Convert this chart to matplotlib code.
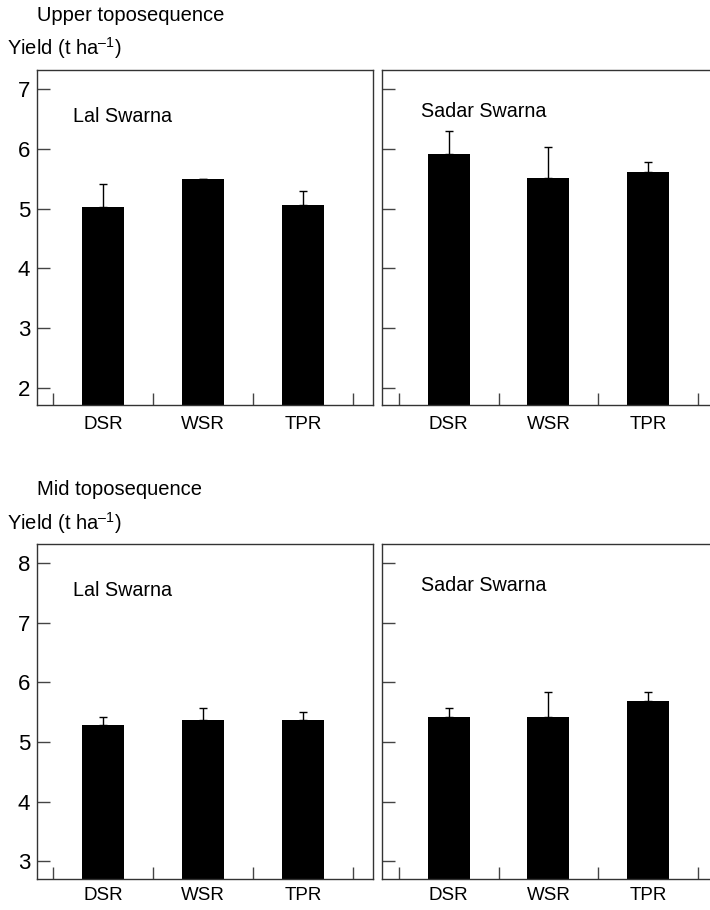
import numpy as np
import matplotlib
matplotlib.use("Agg")
import matplotlib.pyplot as plt

# categories and yields (t/ha)
methods = ["DSR", "WSR", "TPR"]

upper_lal = [5.03, 5.49, 5.06]
upper_lal_err = [0.39, 0.0, 0.23]
upper_sadar = [5.92, 5.51, 5.62]
upper_sadar_err = [0.38, 0.53, 0.16]

mid_lal = [5.28, 5.36, 5.36]
mid_lal_err = [0.14, 0.21, 0.15]
mid_sadar = [5.41, 5.41, 5.68]
mid_sadar_err = [0.16, 0.42, 0.15]

plt.rcParams['font.family'] = ['Liberation Sans', 'DejaVu Sans']
plt.rcParams['mathtext.fontset'] = 'custom'
plt.rcParams['mathtext.rm'] = 'Liberation Sans'
plt.rcParams['mathtext.it'] = 'Liberation Sans'

fig = plt.figure(figsize=(7.1, 9.1), dpi=100)

W = 0.4732
H = 0.368
panels = [
    # left, bottom, values, errors, variety, yticks, ylim, show labels, label pad
    (0.0521, 0.5549, upper_lal, upper_lal_err, "Lal Swarna", [2, 3, 4, 5, 6, 7], (1.71, 7.32), True, 8),
    (0.5385, 0.5549, upper_sadar, upper_sadar_err, "Sadar Swarna", [2, 3, 4, 5, 6, 7], (1.71, 7.32), False, 8),
    (0.0521, 0.0341, mid_lal, mid_lal_err, "Lal Swarna", [3, 4, 5, 6, 7, 8], (2.70, 8.32), True, 5.5),
    (0.5385, 0.0341, mid_sadar, mid_sadar_err, "Sadar Swarna", [3, 4, 5, 6, 7, 8], (2.70, 8.32), False, 5.5),
]

x = np.arange(1, len(methods) + 1)

for left, bottom, vals, errs, name, yt, yl, lab, pad in panels:
    ax = fig.add_axes([left, bottom, W, H])
    ax.bar(x, vals, width=0.42, color='black', zorder=2)
    ax.errorbar(x, vals, yerr=[np.zeros(len(errs)), errs], fmt='none',
                ecolor='black', elinewidth=1, capsize=3, capthick=1, zorder=1)
    ax.set_xlim(0.337, 3.70)
    ax.set_ylim(*yl)
    ax.set_yticks(yt)
    if lab:
        ax.set_yticklabels([str(t) for t in yt], fontsize=16)
    else:
        ax.set_yticklabels([])
    # bottom ticks sit between the bars, labels under the bars
    ax.set_xticks(np.arange(0.5, len(methods) + 1, 1.0))
    ax.set_xticklabels([])
    ax.set_xticks(x, minor=True)
    ax.set_xticklabels(methods, minor=True, fontsize=13.5)
    ax.tick_params(axis='x', which='major', direction='in', length=9, width=1, color='#444444')
    ax.tick_params(axis='x', which='minor', length=0, pad=pad)
    ax.tick_params(axis='y', direction='in', length=9, width=1, color='#444444', pad=5)
    for s in ax.spines.values():
        s.set_color('#333333')
        s.set_linewidth(1)
    ax.text(0.106 if lab else 0.114, 0.861 if lab else 0.876, name,
            transform=ax.transAxes, fontsize=14.2, va='center', ha='left')

fig.text(0.0521, 0.9835, "Upper toposequence", fontsize=14.5, va='center', ha='left')
fig.text(0.0103, 0.9473, r"Yield (t ha$^{\mathrm{–1}}$)", fontsize=14.5, va='center', ha='left')
fig.text(0.0521, 0.4623, "Mid toposequence", fontsize=14.5, va='center', ha='left')
fig.text(0.0103, 0.4256, r"Yield (t ha$^{\mathrm{–1}}$)", fontsize=14.5, va='center', ha='left')

fig.savefig("out.png", dpi=100)
